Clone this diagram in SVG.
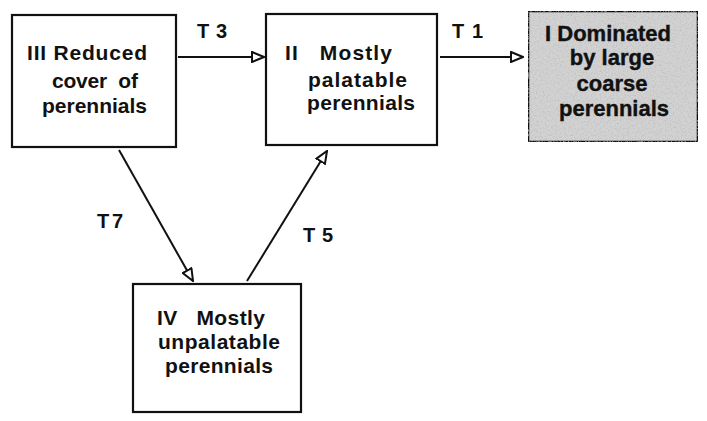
<svg xmlns="http://www.w3.org/2000/svg" width="707" height="421" viewBox="0 0 707 421">
<defs>
<style>
.box{fill:#fff;stroke:#111;stroke-width:2.2}
.gray{fill:#d2d2d2;stroke:#111;stroke-width:2.6}
.t{font-family:"Liberation Sans",Arial,sans-serif;font-weight:bold;font-size:21px;fill:#111;white-space:pre}
.tg{font-family:"Liberation Sans",Arial,sans-serif;font-weight:bold;font-size:22px;fill:#111;stroke:#111;stroke-width:0.4;text-anchor:middle}
.lbl{font-family:"Liberation Sans",Arial,sans-serif;font-weight:bold;font-size:20px;fill:#111;white-space:pre}
.c{stroke:#111;stroke-width:2;fill:none;marker-end:url(#ah)}
</style>
<marker id="ah" markerUnits="userSpaceOnUse" viewBox="0 0 14 12" refX="13" refY="6" markerWidth="14" markerHeight="12" orient="auto">
<path d="M1,1 L13,6 L1,11 Z" fill="#fff" stroke="#111" stroke-width="2"/>
</marker>
<filter id="noise" x="0" y="0" width="100%" height="100%">
<feTurbulence type="fractalNoise" baseFrequency="0.6" numOctaves="2" seed="3" result="n"/>
<feColorMatrix in="n" type="matrix" values="0 0 0 0 0.45  0 0 0 0 0.45  0 0 0 0 0.45  0 0 0 1.6 -0.75" result="d"/>
<feComposite in="d" in2="SourceGraphic" operator="in" result="dd"/>
<feMerge><feMergeNode in="SourceGraphic"/><feMergeNode in="dd"/></feMerge>
</filter>
</defs>
<g id="connectors">
<line class="c" x1="178" y1="57" x2="264" y2="57"/>
<line class="c" x1="440" y1="57" x2="523" y2="57"/>
<line class="c" x1="119" y1="150" x2="193" y2="281"/>
<line class="c" x1="247" y1="281" x2="327" y2="151"/>
<text class="lbl" x="197" y="38" textLength="30" lengthAdjust="spacing">T 3</text>
<text class="lbl" x="452" y="38" textLength="31" lengthAdjust="spacing">T 1</text>
<text class="lbl" x="97" y="228" textLength="26" lengthAdjust="spacing">T 7</text>
<text class="lbl" x="303" y="242" textLength="30" lengthAdjust="spacing">T 5</text>
</g>
<g id="node-III">
<rect class="box" x="12" y="15" width="164" height="132"/>
<text class="t" x="27" y="60" textLength="120" lengthAdjust="spacing">III Reduced</text>
<text class="t" x="52" y="88" textLength="86" lengthAdjust="spacing">cover  of</text>
<text class="t" x="42" y="113" textLength="105" lengthAdjust="spacing">perennials</text>
</g>
<g id="node-II">
<rect class="box" x="266" y="14" width="171" height="131"/>
<text class="t" x="285" y="60" textLength="107" lengthAdjust="spacing">II   Mostly</text>
<text class="t" x="308" y="87" textLength="99" lengthAdjust="spacing">palatable</text>
<text class="t" x="307" y="110" textLength="108" lengthAdjust="spacing">perennials</text>
</g>
<g id="node-I">
<rect class="gray" x="528" y="11" width="170" height="131" filter="url(#noise)"/>
<text class="tg" x="608" y="41">I Dominated</text>
<text class="tg" x="612" y="65">by large</text>
<text class="tg" x="612" y="91">coarse</text>
<text class="tg" x="614" y="116">perennials</text>
</g>
<g id="node-IV">
<rect class="box" x="133" y="284" width="168" height="128"/>
<text class="t" x="157" y="325" textLength="108" lengthAdjust="spacing">IV   Mostly</text>
<text class="t" x="158" y="349" textLength="122" lengthAdjust="spacing">unpalatable</text>
<text class="t" x="165" y="373" textLength="108" lengthAdjust="spacing">perennials</text>
</g>
</svg>
